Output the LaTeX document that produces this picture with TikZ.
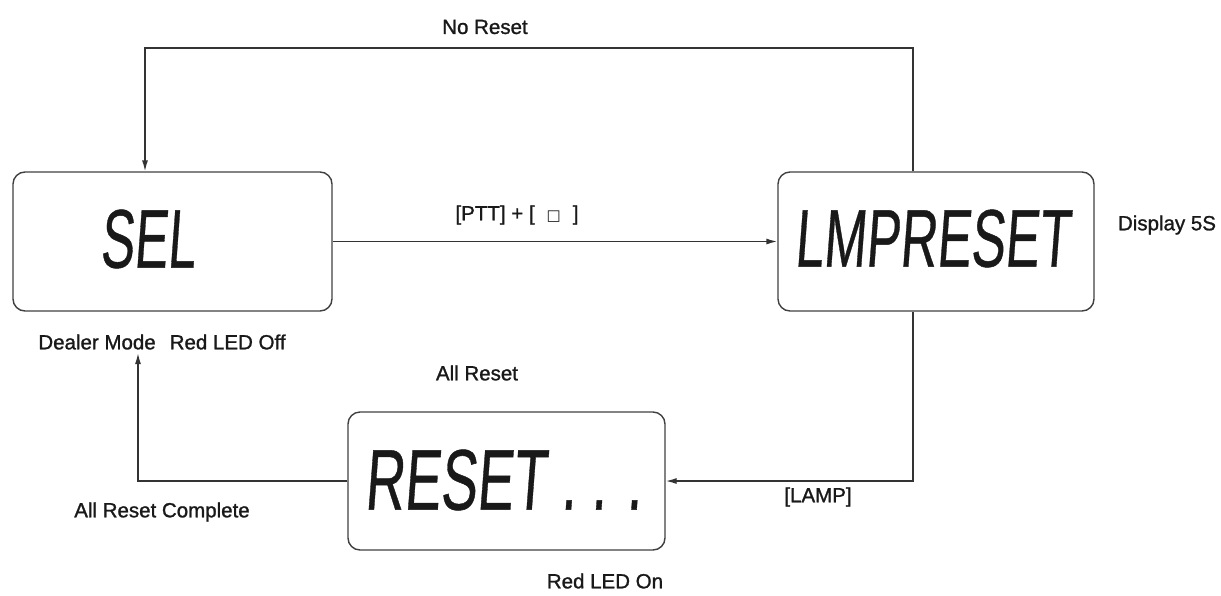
\documentclass[tikz,border=0pt]{standalone}
\usepackage{fontspec}
\setmainfont{Liberation Sans}[FakeBold=1.2]
\newfontfamily\lcdfont{Liberation Sans}[FakeSlant=0.12, FakeBold=0.6]
\newfontfamily\symf{DejaVu Sans}
\usetikzlibrary{arrows.meta}
\begin{document}
\begin{tikzpicture}[x=1pt,y=-1pt,
  lcdbox/.style={draw=black!75, line width=1.4pt, rounded corners=12pt, inner sep=0pt},
  lcdtext/.style={inner sep=0pt, text=black!90},
  conn/.style={draw=black!80, line width=1.4pt},
  arr/.style={conn, -{Latex[length=11pt,width=6pt]}},
  lbl/.style={font=\fontsize{20.5}{24}\selectfont, inner sep=0pt, text=black!90}]
\useasboundingbox (0,0) rectangle (1221,595);
% boxes
\node[lcdbox, minimum width=319pt, minimum height=139pt] (sel) at (172.5,241.5) {};
\node[lcdbox, minimum width=316pt, minimum height=139pt] (lmp) at (936,241.5) {};
\node[lcdbox, minimum width=317pt, minimum height=138pt] (rst) at (506.5,481) {};
% display texts
\node[lcdtext] (selt) at (147.5,239) {\resizebox{95pt}{58pt}{\lcdfont SEL}};
\node[lcdtext] (lmpt) at (932,238.5) {\resizebox{275pt}{57pt}{\lcdfont LMPRESET}};
\node[lcdtext] (rstt) at (503,480) {\resizebox{277pt}{60pt}{\lcdfont RESET . . .}};
% helper coordinates
\coordinate (tr) at (913,48);
\coordinate (tl) at (145,48);
\coordinate (bl) at (138,353);
% connectors
\draw[arr] (sel.east) -- (lmp.west);
\draw[arr] (tr |- lmp.north) -- (tr) -- (tl) -- (tl |- sel.north);
\draw[arr] (tr |- lmp.south) |- (rst.east);
\draw[arr] (rst.west) -| (bl);
% labels
\node[lbl] (noreset) at (485,27) {No Reset};
\node[lbl] (ptt) at (517,215) {[PTT] + [\hspace{12pt}{\symf\fontsize{15}{18}\selectfont □}\hspace{12pt}]};
\node[lbl] (disp) at (1167,225) {Display 5S};
\node[lbl] (dealer) at (162,342) {Dealer Mode\hspace{14pt}Red LED Off};
\node[lbl] (allreset) at (477,373) {All Reset};
\node[lbl] (complete) at (162,512) {All Reset Complete};
\node[lbl] (lamp) at (818,497) {[LAMP]};
\node[lbl] (redon) at (605,581) {Red LED On};
\end{tikzpicture}
\end{document}
